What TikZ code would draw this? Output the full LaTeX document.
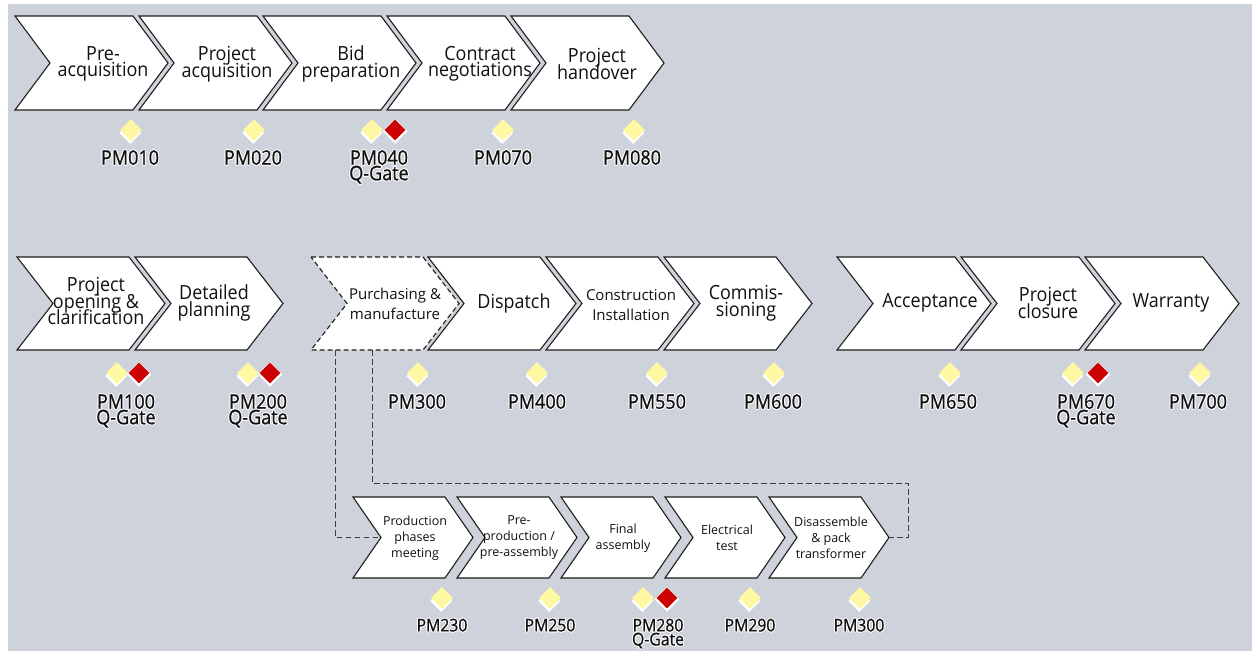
\documentclass[tikz,border=0pt]{standalone}
\usepackage{fontspec}
\setmainfont{Open Sans}
\newfontfamily\condfont[FakeStretch=0.92]{Open Sans}
\newfontfamily\labfont[FakeStretch=0.9,FakeBold=1]{Open Sans}
\usetikzlibrary{shapes.geometric,shadows}

\definecolor{bg}{RGB}{206,210,218}
\definecolor{chevline}{RGB}{30,30,30}
\definecolor{ink}{RGB}{17,17,17}
\definecolor{msyellow}{RGB}{255,248,162}
\definecolor{gatered}{RGB}{204,0,0}
\definecolor{linkgray}{RGB}{60,60,60}

% white glow round the milestone labels
\newcommand{\halo}[1]{{\setbox0=\hbox{#1}%
  \rlap{\color{white}%
    \rlap{\kern1pt\copy0}\rlap{\kern-1pt\copy0}%
    \rlap{\raise1pt\copy0}\rlap{\lower1pt\copy0}%
    \rlap{\kern.7pt\raise.7pt\copy0}\rlap{\kern-.7pt\raise.7pt\copy0}%
    \rlap{\kern.7pt\lower.7pt\copy0}\rlap{\kern-.7pt\lower.7pt\copy0}}%
  \box0}}

% chevron: name, style, left x, top y, bottom y, body width, point depth
\newcommand{\chev}[7]{%
  \path[#2] (#3,#4) coordinate (#1-nw)
    -- ({#3+#6},#4) coordinate (#1-ne)
    -- ({#3+#6+#7},{(#4+#5)/2}) coordinate (#1-tip)
    -- ({#3+#6},#5) coordinate (#1-se)
    -- (#3,#5) coordinate (#1-sw)
    -- ({#3+#7},{(#4+#5)/2}) coordinate (#1-notch)
    -- cycle;}

\tikzset{
  chevbox/.style={draw=chevline, line width=1.1pt, fill=white, line join=miter},
  chevdash/.style={chevbox, dash pattern=on 5pt off 3pt},
  bigtxt/.style={font=\condfont\fontsize{19.5}{16.5}\selectfont,
    align=center, inner sep=0pt, text=ink},
  midtxt/.style={font=\fontsize{15}{19.5}\selectfont,
    align=center, inner sep=0pt, text=ink},
  smalltxt/.style={font=\fontsize{12.5}{16}\selectfont,
    align=center, inner sep=0pt, text=ink},
  ms/.style={diamond, fill=msyellow, minimum width=22pt, minimum height=22pt, inner sep=0pt,
    drop shadow={shadow xshift=-0.8pt, shadow yshift=-3pt, fill=white, opacity=1}},
  gate/.style={diamond, fill=gatered, minimum width=21pt, minimum height=21pt, inner sep=0pt,
    drop shadow={shadow xshift=0pt, shadow yshift=-1.2pt, shadow scale=1.18, fill=white, opacity=1}},
  lab/.style={font=\labfont\fontsize{20}{15.5}\selectfont,
    align=center, anchor=north, inner sep=0pt, text=ink},
  labs/.style={lab, font=\labfont\fontsize{17.5}{14}\selectfont},
  link/.style={draw=linkgray, line width=1pt, dash pattern=on 5.5pt off 3.5pt},
}

\begin{document}
% tight leading: keep the baseline distance even when lines nearly touch
\lineskiplimit=-30pt
\begin{tikzpicture}[x=1pt, y=-1pt]
\useasboundingbox (0,0) rectangle (1252,651);
\fill[white] (0,0) rectangle (1252,651);
\fill[bg] (8,4) rectangle (1252,651);

% ---------- acquisition phase ----------
\chev{c1}{chevbox}{15}{16}{110}{118}{35}
\chev{c2}{chevbox}{139}{16}{110}{118}{35}
\chev{c3}{chevbox}{263}{16}{110}{118}{35}
\chev{c4}{chevbox}{387}{16}{110}{118}{35}
\chev{c5}{chevbox}{511}{16}{110}{118}{35}
\node[bigtxt] (preacq) at (103,64) {Pre-\\acquisition};
\node[bigtxt] (projacq) at (227,64) {Project\\acquisition};
\node[bigtxt] (bidprep) at (351,64) {Bid\\preparation};
\node[bigtxt] (contract) at (480,64) {Contract\\negotiations};
\node[bigtxt] (handover) at (597,64) {Project\\handover};

\node[ms] (d010) at (131,130) {};
\node[ms] (d020) at (254,130) {};
\node[ms] (d040) at (372,130) {};
\node[gate] (g040) at (395,130) {};
\node[ms] (d070) at (503,130) {};
\node[ms] (d080) at (634,130) {};
\node[lab] (pm010) at (130,149) {\halo{PM010}};
\node[lab] (pm020) at (253,149) {\halo{PM020}};
\node[lab] (pm040) at (379,149) {\halo{PM040}\\\halo{Q-Gate}};
\node[lab] (pm070) at (503,149) {\halo{PM070}};
\node[lab] (pm080) at (632,149) {\halo{PM080}};

% ---------- execution phase ----------
\chev{e1}{chevbox}{17}{257}{350}{112}{36}
\chev{e2}{chevbox}{135}{257}{350}{112}{36}
\chev{purch}{chevdash}{311}{257}{350}{112}{36}
\chev{e4}{chevbox}{428}{257}{350}{112}{36}
\chev{e5}{chevbox}{546}{257}{350}{112}{36}
\chev{e6}{chevbox}{664}{257}{350}{112}{36}
\chev{e7}{chevbox}{837}{257}{350}{118}{36}
\chev{e8}{chevbox}{961}{257}{350}{118}{36}
\chev{e9}{chevbox}{1085}{257}{350}{118}{36}
\node[bigtxt] (opening) at (96,301) {Project\\opening \&\\clarification};
\node[bigtxt] (detplan) at (214,303) {Detailed\\planning};
\node[midtxt] (purchtxt) at (395,304) {Purchasing \&\\manufacture};
\node[bigtxt] (dispatch) at (514,303) {Dispatch};
\node[midtxt] (construct) at (631,305) {Construction\\Installation};
\node[bigtxt] (commis) at (746,303) {Commis-\\sioning};
\node[bigtxt] (accept) at (930,303) {Acceptance};
\node[bigtxt] (closure) at (1048,303) {Project\\closure};
\node[bigtxt] (warranty) at (1171,303) {Warranty};

\node[ms] (d100) at (117,373) {};
\node[gate] (g100) at (139,373) {};
\node[ms] (d200) at (248,373) {};
\node[gate] (g200) at (270,373) {};
\node[ms] (d300) at (418,373) {};
\node[ms] (d400) at (537,373) {};
\node[ms] (d550) at (657,373) {};
\node[ms] (d600) at (774,373) {};
\node[ms] (d650) at (950,373) {};
\node[ms] (d670) at (1073,373) {};
\node[gate] (g670) at (1098,373) {};
\node[ms] (d700) at (1200,373) {};
\node[lab] (pm100) at (126,393) {\halo{PM100}\\\halo{Q-Gate}};
\node[lab] (pm200) at (258,393) {\halo{PM200}\\\halo{Q-Gate}};
\node[lab] (pm300) at (417,393) {\halo{PM300}};
\node[lab] (pm400) at (537,393) {\halo{PM400}};
\node[lab] (pm550) at (657,393) {\halo{PM550}};
\node[lab] (pm600) at (773,393) {\halo{PM600}};
\node[lab] (pm650) at (948,393) {\halo{PM650}};
\node[lab] (pm670) at (1086,393) {\halo{PM670}\\\halo{Q-Gate}};
\node[lab] (pm700) at (1198,393) {\halo{PM700}};

% ---------- manufacturing sub-process ----------
\chev{p1}{chevbox}{353}{497}{578}{92}{28}
\chev{p2}{chevbox}{457}{497}{578}{92}{28}
\chev{p3}{chevbox}{561}{497}{578}{92}{28}
\chev{p4}{chevbox}{665}{497}{578}{92}{28}
\chev{p5}{chevbox}{769}{497}{578}{92}{28}
\node[smalltxt] (prodmeet) at (415,538) {Production\\phases\\meeting};
\node[smalltxt] (preprod) at (519,538) {Pre-\\production /\\pre-assembly};
\node[smalltxt] (finalasm) at (623,538) {Final\\assembly};
\node[smalltxt] (eltest) at (727,538) {Electrical\\test};
\node[smalltxt] (packing) at (831,538) {Disassemble\\\& pack\\transformer};

\node[ms] (d230) at (442,598) {};
\node[ms] (d250) at (550,598) {};
\node[ms] (d280) at (643,598) {};
\node[gate] (g280) at (667,598) {};
\node[ms] (d290) at (750,598) {};
\node[ms] (d300b) at (860,598) {};
\node[labs] (pm230) at (442,617.5) {\halo{PM230}};
\node[labs] (pm250) at (550,617.5) {\halo{PM250}};
\node[labs] (pm280) at (658,617.5) {\halo{PM280}\\\halo{Q-Gate}};
\node[labs] (pm290) at (750,617.5) {\halo{PM290}};
\node[labs] (pm300b) at (859,617.5) {\halo{PM300}};

% dashed links from purchasing to its sub-process
\coordinate (bend) at (908,483);
\draw[link] (purch-sw) ++(24,0) |- (p1-notch);
\draw[link] (purch-sw) ++(61,0) |- (bend) |- (p5-tip);
\end{tikzpicture}
\end{document}
